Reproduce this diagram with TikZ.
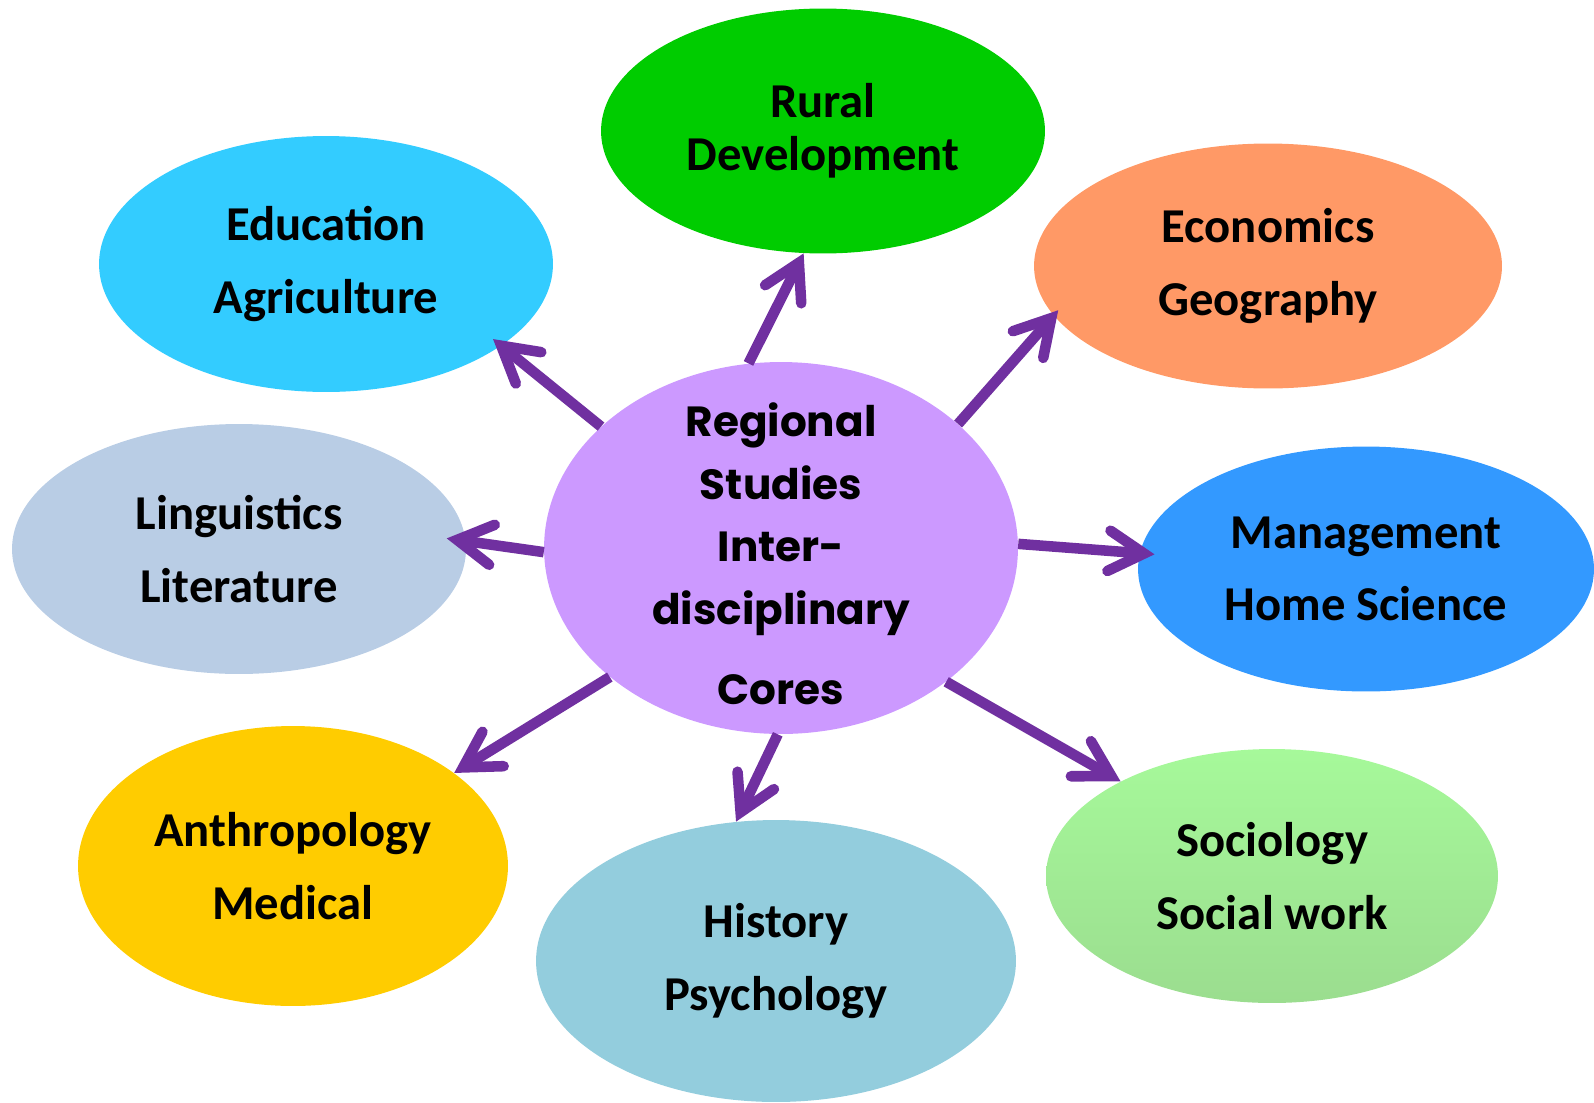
\documentclass[tikz,border=0pt]{standalone}
\usepackage{fontspec}
\setmainfont{Carlito}
\newfontfamily\corefont{Poppins}
\usepackage{tikz}
\usetikzlibrary{shapes,arrows.meta,positioning}
\definecolor{ruralgreen}{HTML}{00CC00}
\definecolor{educyan}{HTML}{33CCFF}
\definecolor{econorange}{HTML}{FF9966}
\definecolor{lingblue}{HTML}{B9CDE5}
\definecolor{corelilac}{HTML}{CC99FF}
\definecolor{mgmtblue}{HTML}{3399FF}
\definecolor{anthgold}{HTML}{FFCC00}
\definecolor{histblue}{HTML}{93CDDD}
\definecolor{socgreentop}{HTML}{A6F99A}
\definecolor{socgreenbot}{HTML}{9BDD8F}
\definecolor{linkpurple}{HTML}{7030A0}

\begin{document}
\begin{tikzpicture}[x=0.02cm, y=-0.02cm,
  field/.style={ellipse, inner sep=0pt, align=center, font=\bfseries\fontsize{27.7}{41.4}\selectfont},
  link/.style={-{Straight Barb[length=20pt, width=23pt, line cap=round, line join=miter]}, line width=6pt, draw=linkpurple}]
  \useasboundingbox (0,0) rectangle (1594,1102);
  % outer fields
  \node[field, fill=ruralgreen, minimum width=8.88cm, minimum height=4.9cm, font=\bfseries\fontsize{27.7}{30}\selectfont] (rural) at (823,131) {Rural\\Development};
  \node[field, fill=educyan, minimum width=9.08cm, minimum height=5.12cm] (edu) at (326,264) {Education\\Agriculture};
  \node[field, fill=econorange, minimum width=9.36cm, minimum height=4.9cm] (econ) at (1268,266) {Economics\\Geography};
  \node[field, fill=lingblue, minimum width=9.08cm, minimum height=5cm] (ling) at (239,549) {Linguistics\\Literature};
  \node[field, fill=mgmtblue, minimum width=9.12cm, minimum height=4.9cm] (mgmt) at (1366,569) {Management\\Home Science};
  \node[field, fill=anthgold, minimum width=8.6cm, minimum height=5.6cm] (anth) at (293,866) {Anthropology\\Medical};
  \node[field, fill=histblue, minimum width=9.6cm, minimum height=5.64cm] (hist) at (776,961) {History\\Psychology};
  \node[field, top color=socgreentop, bottom color=socgreenbot, minimum width=9.04cm, minimum height=5.08cm] (soc) at (1272,876) {Sociology\\Social work};
  % core
  \node[ellipse, fill=corelilac, inner sep=0pt, minimum width=9.48cm, minimum height=7.44cm] (core) at (781,548) {};
  \node[align=center, font=\corefont\bfseries\fontsize{24}{35.7}\selectfont] (coretitle) at (781,554) {Regional\\Studies\\Inter-\\disciplinary\\[10pt]Cores};
  % arrows
  \foreach \from/\to/\at/\dip in {100.5/rural/261.6/0, 146/edu/335.6/6, 35.8/econ/193.9/4, 181.7/ling/2.2/11,
                                  1.4/mgmt/176.3/8.5, 217.2/anth/30.3/0, 269/hist/106/0, 321/soc/148.8/0}
    \draw[link, shorten >=-\dip pt] (core.\from) -- (\to.\at);
\end{tikzpicture}
\end{document}
